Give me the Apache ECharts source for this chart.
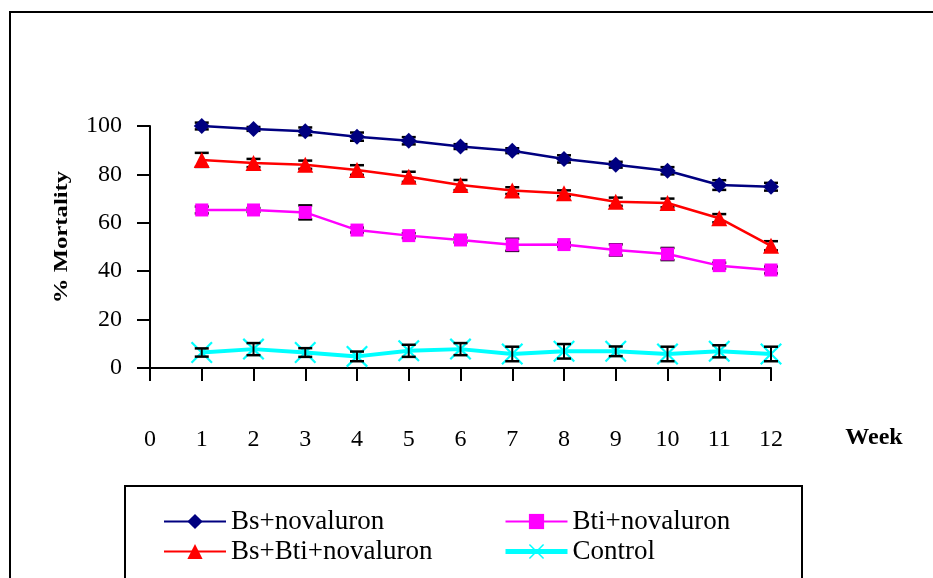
<!DOCTYPE html>
<html>
<head>
<meta charset="utf-8">
<script src="https://cdn.jsdelivr.net/npm/echarts@6/dist/echarts.min.js"></script>
<style>
html,body{margin:0;padding:0;background:#fff;}
#chart{width:933px;height:578px;}
</style>
</head>
<body>
<div id="chart"></div>
<script>
const weeks = [1, 2, 3, 4, 5, 6, 7, 8, 9, 10, 11, 12];
const xTicks = [0, 1, 2, 3, 4, 5, 6, 7, 8, 9, 10, 11, 12];
const yTicks = [0, 20, 40, 60, 80, 100];

const seriesNames = ['Bs+novaluron', 'Bti+novaluron', 'Bs+Bti+novaluron', 'Control'];

const bsNova = [100, 98.8, 97.8, 95.6, 93.9, 91.5, 89.8, 86.4, 84.0, 81.5, 75.6, 74.9];
const btiNova = [65.3, 65.3, 64.3, 57.0, 54.7, 52.9, 50.9, 51.0, 48.8, 47.1, 42.3, 40.5];
const bsBtiNova = [86.0, 84.7, 84.0, 81.8, 79.0, 75.6, 73.3, 72.2, 68.7, 68.2, 61.9, 50.5];
const control = [6.4, 7.8, 6.4, 4.8, 7.1, 7.8, 5.8, 6.9, 6.9, 5.8, 6.9, 5.8];

const bsNovaErr = [1.4, 0.8, 1.6, 1.7, 1.5, 1.0, 1.0, 1.5, 1.2, 1.5, 2.0, 1.6];
const btiNovaErr = [1.4, 0.8, 2.9, 1.0, 1.0, 1.0, 2.5, 0.8, 2.3, 2.5, 1.2, 1.4];
const bsBtiNovaErr = [2.9, 1.7, 1.7, 2.0, 2.1, 2.1, 1.4, 1.2, 1.7, 1.8, 1.7, 1.9];
const controlErr = [1.7, 2.5, 1.8, 2.0, 2.5, 2.5, 3.0, 3.0, 2.0, 3.0, 2.5, 3.0];

const FONT = '"Liberation Serif", "Times New Roman", serif';
const xSymbol = 'path://M0,0.7 L0.7,0 L5,4.3 L9.3,0 L10,0.7 L5.7,5 L10,9.3 L9.3,10 L5,5.7 L0.7,10 L0,9.3 L4.3,5 Z';

function pairs(vals) { return weeks.map((w, i) => [w, vals[i]]); }
function errData(vals, errs) { return weeks.map((w, i) => [w, vals[i] - errs[i], vals[i] + errs[i]]); }

const allErr = [].concat(
  errData(bsNova, bsNovaErr),
  errData(btiNova, btiNovaErr),
  errData(bsBtiNova, bsBtiNovaErr),
  errData(control, controlErr)
);

const chart = echarts.init(document.getElementById('chart'), null, {renderer: 'canvas'});

const legendCommon = {
  orient: 'vertical',
  top: 508,
  itemGap: 3,
  itemWidth: 62,
  itemHeight: 19,
  padding: 0,
  textStyle: {fontFamily: FONT, fontSize: 27, color: '#000'},
  selectedMode: false
};

chart.setOption({
  animation: false,
  backgroundColor: '#fff',
  grid: {left: 150, right: 162, top: 126, bottom: 210},
  xAxis: {
    type: 'value', min: 0, max: 12, interval: 1,
    axisLine: {lineStyle: {color: '#000', width: 2}},
    axisTick: {length: 13, lineStyle: {color: '#000', width: 2}},
    axisLabel: {
      margin: 60, fontFamily: FONT, fontSize: 24, color: '#000',
      formatter: v => xTicks.indexOf(v) >= 0 ? String(v) : ''
    },
    splitLine: {show: false}
  },
  yAxis: {
    type: 'value', min: 0, max: 100, interval: 20,
    axisLine: {show: true, lineStyle: {color: '#000', width: 2}},
    axisTick: {show: true, length: 13, lineStyle: {color: '#000', width: 2}},
    axisLabel: {
      margin: 28, fontFamily: FONT, fontSize: 24, color: '#000',
      formatter: v => yTicks.indexOf(v) >= 0 ? String(v) : ''
    },
    splitLine: {show: false}
  },
  legend: [
    Object.assign({left: 163, data: [
      {name: seriesNames[0]},
      {name: seriesNames[2]}
    ]}, legendCommon),
    Object.assign({left: 503, data: [
      {name: seriesNames[1]},
      {name: seriesNames[3], lineStyle: {width: 5}}
    ]}, legendCommon)
  ],
  graphic: [
    {type: 'rect', z: -10, shape: {x: 10, y: 12, width: 1000, height: 1000},
      style: {fill: 'none', stroke: '#000', lineWidth: 2}},
    {type: 'rect', z: -10, shape: {x: 125, y: 486, width: 677, height: 200},
      style: {fill: 'none', stroke: '#000', lineWidth: 2}},
    {type: 'text', x: 62, y: 237, rotation: Math.PI / 2, scaleX: 1.3,
      style: {text: '% Mortality', font: 'bold 19px ' + FONT, fill: '#000',
        textAlign: 'center', textVerticalAlign: 'middle'}},
    {type: 'text', x: 874, y: 438,
      style: {text: 'Week', font: 'bold 24px ' + FONT, fill: '#000',
        textAlign: 'center', textVerticalAlign: 'middle'}}
  ],
  series: [
    {
      name: seriesNames[3], type: 'line', z: 1, data: pairs(control),
      symbol: xSymbol, symbolSize: 22,
      lineStyle: {color: '#00FFFF', width: 4},
      itemStyle: {color: '#00FFFF'}
    },
    {
      name: 'errors', type: 'custom', z: 2, data: allErr,
      encode: {x: 0, y: [1, 2]},
      renderItem: function (params, api) {
        const x = api.value(0), lo = api.value(1), hi = api.value(2);
        const p1 = api.coord([x, lo]);
        const p2 = api.coord([x, hi]);
        const w = 7;
        const st = {stroke: '#000', lineWidth: 2};
        const cap = {stroke: '#000', lineWidth: 2.5};
        return {type: 'group', children: [
          {type: 'line', shape: {x1: p1[0], y1: p1[1], x2: p2[0], y2: p2[1]}, style: st},
          {type: 'line', shape: {x1: p1[0] - w, y1: p1[1], x2: p1[0] + w, y2: p1[1]}, style: cap},
          {type: 'line', shape: {x1: p2[0] - w, y1: p2[1], x2: p2[0] + w, y2: p2[1]}, style: cap}
        ]};
      }
    },
    {
      name: seriesNames[0], type: 'line', z: 3, data: pairs(bsNova),
      symbol: 'diamond', symbolSize: 16,
      lineStyle: {color: '#000080', width: 2.5},
      itemStyle: {color: '#000080'}
    },
    {
      name: seriesNames[2], type: 'line', z: 3, data: pairs(bsBtiNova),
      symbol: 'triangle', symbolSize: 16,
      lineStyle: {color: '#FF0000', width: 2.5},
      itemStyle: {color: '#FF0000'}
    },
    {
      name: seriesNames[1], type: 'line', z: 3, data: pairs(btiNova),
      symbol: 'rect', symbolSize: 13,
      lineStyle: {color: '#FF00FF', width: 2.5},
      itemStyle: {color: '#FF00FF'}
    }
  ]
});
</script>
</body>
</html>
